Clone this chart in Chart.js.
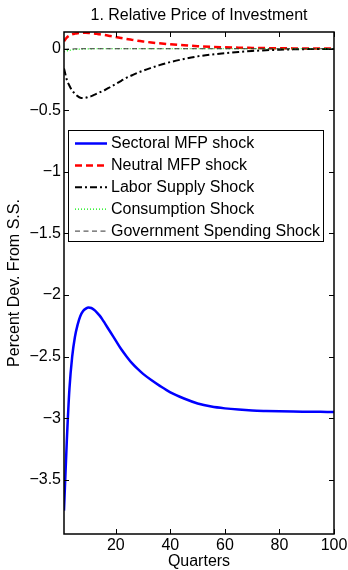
<!DOCTYPE html>
<html>
<head>
<meta charset="utf-8">
<script src="https://cdn.jsdelivr.net/npm/chart.js"></script>
<style>
  body { margin: 0; background: #fff; }
  canvas { display: block; }
</style>
</head>
<body>
<canvas id="irfChart" width="348" height="570"></canvas>
<script>
// values
const quarters = [1, 2, 3, 4, 5, 6, 7, 8, 9, 10, 11, 12, 13, 14, 15, 16, 18, 20, 22, 24, 26, 28, 30, 33, 36, 40, 45, 50, 55, 60, 65, 70, 75, 80, 85, 90, 95, 100];

const sectoralMfp = [-3.75, -3.2, -2.76, -2.5, -2.34, -2.24, -2.17, -2.13, -2.11, -2.1, -2.105, -2.12, -2.14, -2.165, -2.195, -2.23, -2.3, -2.37, -2.44, -2.5, -2.555, -2.6, -2.64, -2.69, -2.735, -2.79, -2.84, -2.88, -2.905, -2.92, -2.93, -2.937, -2.941, -2.944, -2.946, -2.947, -2.948, -2.949];

const neutralMfp = [0.06, 0.09, 0.108, 0.118, 0.123, 0.126, 0.128, 0.129, 0.129, 0.128, 0.126, 0.124, 0.121, 0.118, 0.114, 0.111, 0.103, 0.095, 0.087, 0.079, 0.072, 0.065, 0.059, 0.051, 0.044, 0.036, 0.028, 0.021, 0.016, 0.012, 0.009, 0.007, 0.005, 0.004, 0.003, 0.002, 0.002, 0.001];

const laborSupply = [-0.16, -0.25, -0.3, -0.34, -0.365, -0.385, -0.398, -0.4, -0.398, -0.39, -0.385, -0.375, -0.365, -0.355, -0.345, -0.335, -0.31, -0.285, -0.26, -0.235, -0.215, -0.195, -0.178, -0.155, -0.133, -0.108, -0.083, -0.062, -0.047, -0.036, -0.026, -0.018, -0.012, -0.008, -0.005, -0.003, -0.002, -0.001];

const consumption = [-0.025, -0.018, -0.013, -0.009, -0.006, -0.004, -0.003, -0.002, -0.001, -0.001, -0.001, 0, 0, 0, 0, 0, 0, 0, 0, 0, 0, 0, 0, 0, 0, 0, 0, 0, 0, 0, 0, 0, 0, 0, 0, 0, 0, 0];

const govSpending = [-0.004, -0.003, -0.002, -0.002, -0.001, -0.001, -0.001, 0, 0, 0, 0, 0, 0, 0, 0, 0, 0, 0, 0, 0, 0, 0, 0, 0, 0, 0, 0, 0, 0, 0, 0, 0, 0, 0, 0, 0, 0, 0];

const seriesLabels = ["Sectoral MFP shock", "Neutral MFP shock", "Labor Supply Shock", "Consumption Shock", "Government Spending Shock"];
const xTicks = [20, 40, 60, 80, 100];
const yTicks = [0, -0.5, -1, -1.5, -2, -2.5, -3, -3.5];

const FONT = "'Liberation Sans', Arial, Helvetica, sans-serif";

function toPoints(values) {
  return quarters.map((q, i) => ({ x: q, y: values[i] }));
}

const styles = [
  { color: "#0000ff", width: 2.5, dash: [] },
  { color: "#ff0000", width: 2.5, dash: [7, 4] },
  { color: "#000000", width: 2, dash: [7, 3, 2, 3] },
  { color: "#00ee00", width: 1.2, dash: [1, 2] },
  { color: "#333333", width: 1, dash: [5, 3.5] },
];
const series = [sectoralMfp, neutralMfp, laborSupply, consumption, govSpending];

const datasets = series.map((vals, i) => ({
  label: seriesLabels[i],
  data: toPoints(vals),
  borderColor: styles[i].color,
  borderWidth: styles[i].width,
  borderDash: styles[i].dash,
  pointRadius: 0,
  fill: false,
  cubicInterpolationMode: "monotone",
  order: series.length - i, // later series drawn on top, like matlab
}));

// axes box with inward ticks on all four sides
const boxAndTicks = {
  id: "boxAndTicks",
  afterDatasetsDraw(chart) {
    const { ctx, chartArea: a, scales } = chart;
    const len = 5;
    ctx.save();
    ctx.strokeStyle = "#000";
    ctx.lineWidth = 1;
    ctx.beginPath();
    xTicks.forEach((v) => {
      const px = Math.round(scales.x.getPixelForValue(v)) + 0.5;
      ctx.moveTo(px, a.bottom); ctx.lineTo(px, a.bottom - len);
      ctx.moveTo(px, a.top); ctx.lineTo(px, a.top + len);
    });
    yTicks.forEach((v) => {
      const py = Math.round(scales.y.getPixelForValue(v)) + 0.5;
      ctx.moveTo(a.left, py); ctx.lineTo(a.left + len, py);
      ctx.moveTo(a.right, py); ctx.lineTo(a.right - len, py);
    });
    ctx.stroke();
    ctx.lineWidth = 1.5;
    ctx.strokeRect(a.left, a.top, a.right - a.left, a.bottom - a.top);
    ctx.restore();
  },
};

// matlab style legend box inside the axes
const insideLegend = {
  id: "insideLegend",
  afterDraw(chart) {
    const { ctx } = chart;
    const box = { left: 68.5, top: 130.5, right: 323.5, bottom: 241.5 };
    ctx.save();
    ctx.fillStyle = "#fff";
    ctx.fillRect(box.left, box.top, box.right - box.left, box.bottom - box.top);
    ctx.strokeStyle = "#000";
    ctx.lineWidth = 1;
    ctx.strokeRect(box.left, box.top, box.right - box.left, box.bottom - box.top);
    ctx.font = "16px " + FONT;
    ctx.textBaseline = "middle";
    chart.data.datasets.forEach((ds, i) => {
      const y = 143.5 + i * 21.9;
      ctx.strokeStyle = ds.borderColor;
      ctx.lineWidth = ds.borderWidth;
      ctx.setLineDash(ds.borderDash);
      ctx.beginPath();
      ctx.moveTo(75, y);
      ctx.lineTo(107, y);
      ctx.stroke();
      ctx.setLineDash([]);
      ctx.fillStyle = "#000";
      ctx.fillText(ds.label, 111, y);
    });
    ctx.restore();
  },
};

const minus = (v) => String(v).replace("-", "\u2212");

new Chart(document.getElementById("irfChart"), {
  type: "line",
  data: { datasets },
  options: {
    responsive: false,
    animation: false,
    layout: { padding: { left: 0, right: 14, top: 0, bottom: 0 } },
    plugins: {
      legend: { display: false },
      tooltip: { enabled: false },
      title: {
        display: true,
        text: "1. Relative Price of Investment",
        fullSize: false,
        color: "#000",
        font: { family: FONT, size: 16, weight: "normal", lineHeight: 1.2 },
        padding: { top: 5.6, bottom: 7.2 },
      },
    },
    scales: {
      x: {
        type: "linear",
        min: 1,
        max: 100,
        grid: { display: false, drawTicks: false },
        border: { display: false },
        afterBuildTicks: (scale) => { scale.ticks = xTicks.map((v) => ({ value: v })); },
        afterFit: (scale) => {
          scale.height = 36;
          // "100" may hang past the axis, like in the original
          scale.paddingLeft = 0;
          scale.paddingRight = 0;
        },
        ticks: {
          color: "#000",
          padding: 4,
          maxRotation: 0,
          font: { family: FONT, size: 16, lineHeight: 1 },
          callback: (v) => minus(v),
        },
        title: {
          display: true,
          text: "Quarters",
          color: "#000",
          font: { family: FONT, size: 16, lineHeight: 1 },
          padding: { top: 0, bottom: 0 },
        },
      },
      y: {
        min: -3.94,
        max: 0.136,
        grid: { display: false, drawTicks: false },
        border: { display: false },
        afterBuildTicks: (scale) => { scale.ticks = yTicks.map((v) => ({ value: v })); },
        afterFit: (scale) => { scale.width = 64; },
        ticks: {
          color: "#000",
          padding: 3,
          font: { family: FONT, size: 16 },
          callback: (v) => minus(v),
        },
        title: {
          display: true,
          text: "Percent Dev. From S.S.",
          color: "#000",
          font: { family: FONT, size: 16, lineHeight: 1 },
          padding: { top: 7, bottom: 0 },
        },
      },
    },
  },
  plugins: [boxAndTicks, insideLegend],
});
</script>
</body>
</html>
